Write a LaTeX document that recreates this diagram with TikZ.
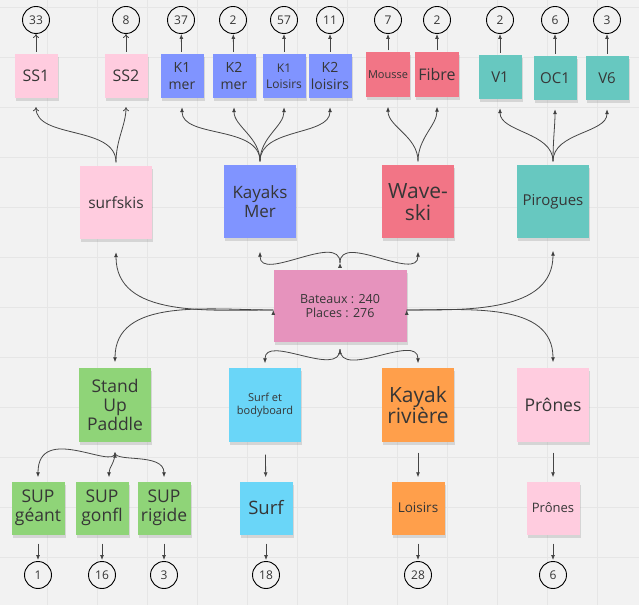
\documentclass[tikz,border=0pt]{standalone}
\usepackage{fontspec}
\setmainfont{Open Sans}
\usetikzlibrary{arrows.meta,shadows}

\definecolor{paper}{HTML}{F2F2F2}
\definecolor{gridc}{HTML}{E6E6E6}
\definecolor{ink}{HTML}{363636}
\definecolor{wire}{HTML}{454545}
\definecolor{rose}{HTML}{FFCCDF}
\definecolor{ocean}{HTML}{8094FF}
\definecolor{coral}{HTML}{F27586}
\definecolor{lagoon}{HTML}{67C8C0}
\definecolor{orchid}{HTML}{E693BD}
\definecolor{grass}{HTML}{8FD478}
\definecolor{sky}{HTML}{6AD6F8}
\definecolor{tangerine}{HTML}{FF9F4B}

\newcommand{\txt}[2]{\fontsize{#1}{#2}\selectfont}

\tikzset{
    note/.style={rectangle, minimum width=43pt, minimum height=44pt, inner sep=1pt,
        align=center, text=ink,
        drop shadow={shadow xshift=1pt, shadow yshift=-3pt, opacity=.25}},
    bignote/.style={note, minimum width=72pt, minimum height=73pt},
    subnote/.style={note, minimum width=53pt, minimum height=53pt},
    count/.style={circle, draw=black, line width=.9pt, minimum size=27pt, inner sep=0pt,
        fill=paper, text=ink, font=\txt{12}{12}},
    link/.style={draw=wire, line width=.8pt, -{Latex[length=5pt,width=4pt]}},
    openlink/.style={draw=wire, line width=.8pt, -{To[length=4pt,width=6pt]}},
    gridline/.style={draw=gridc, line width=.6pt}
}

\begin{document}
\begin{tikzpicture}[x=1pt,y=1pt]
    \fill[paper] (0,0) rectangle (639,605);
    \useasboundingbox (0,0) rectangle (639,605);
    \foreach \x in {47,97,...,597} \draw[gridline] (\x,0) -- (\x,605);
    \foreach \y in {48,98,...,598} \draw[gridline] (0,\y) -- (639,\y);

    % counts, top row
    \node (n33) at (36,585) [count] {33};
    \node (n8) at (126,585) [count] {8};
    \node (n37) at (181,585) [count] {37};
    \node (n2a) at (233,585) [count] {2};
    \node (n57) at (284,585) [count] {57};
    \node (n11) at (330,585) [count] {11};
    \node (n7) at (388,585) [count] {7};
    \node (n2b) at (437,585) [count] {2};
    \node (n2c) at (500,585) [count] {2};
    \node (n6a) at (555,585) [count] {6};
    \node (n3a) at (607,585) [count] {3};

    % small notes, top row
    \node (ss1) at (36,529) [note, fill=rose, font=\txt{16}{19}] {SS1};
    \node (ss2) at (126,529) [note, fill=rose, font=\txt{16}{19}] {SS2};
    \node (kam) at (182,529) [note, fill=ocean, font=\txt{14}{17}] {K1\\mer};
    \node (kbm) at (234,529) [note, fill=ocean, font=\txt{14}{17}] {K2\\mer};
    \node (kal) at (284,529) [note, fill=ocean, font=\txt{12}{16}] {K1\\Loisirs};
    \node (kbl) at (330,529) [note, fill=ocean, font=\txt{14}{17}] {K2\\loisirs};
    \node (mousse) at (388,530) [note, minimum width=44pt, minimum height=45pt, fill=coral, font=\txt{11}{13}] {Mousse};
    \node (fibre) at (437,530) [note, minimum width=44pt, minimum height=45pt, fill=coral, font=\txt{16}{19}] {Fibre};
    \node (v1) at (500,528) [note, fill=lagoon, font=\txt{15}{18}] {V1};
    \node (oc1) at (555,527) [note, fill=lagoon, font=\txt{15}{18}] {OC1};
    \node (v6) at (607,527) [note, fill=lagoon, font=\txt{15}{18}] {V6};

    % families
    \node (surfskis) at (116,402) [bignote, fill=rose, font=\txt{15.5}{18}] {surfskis};
    \node (kmer) at (260,403) [bignote, fill=ocean, font=\txt{17}{19}] {Kayaks\\Mer};
    \node (wave) at (418,403) [bignote, fill=coral, font=\txt{21}{22}] {Wave-\\ski};
    \node (pirogues) at (553,403) [bignote, fill=lagoon, font=\txt{15}{18}] {Pirogues};

    \node (bateaux) at (340,299) [note, minimum width=133pt, minimum height=72pt, fill=orchid, font=\txt{12.5}{13.5}] {Bateaux : 240\\Places : 276};

    \node (sup) at (115,200) [bignote, fill=grass, font=\txt{17.5}{19}] {Stand\\Up\\Paddle};
    \node (surfbb) at (265,200) [bignote, fill=sky, font=\txt{11}{12.5}] {Surf et\\bodyboard};
    \node (kriv) at (418,200) [bignote, fill=tangerine, font=\txt{21}{21.5}] {Kayak\\rivière};
    \node (prones) at (553,200) [bignote, fill=rose, font=\txt{17.5}{19}] {Prônes};

    % small notes, bottom row
    \node (geant) at (38,97) [subnote, fill=grass, font=\txt{17.5}{19}] {SUP\\géant};
    \node (gonfl) at (102,97) [subnote, fill=grass, font=\txt{17.5}{19}] {SUP\\gonfl};
    \node (rigide) at (164,97) [subnote, fill=grass, font=\txt{17.5}{19}] {SUP\\rigide};
    \node (surf) at (266,97) [subnote, fill=sky, font=\txt{18.5}{20}] {Surf};
    \node (loisirs) at (418,97) [subnote, fill=tangerine, font=\txt{13.5}{16}] {Loisirs};
    \node (pronesb) at (553,97) [subnote, fill=rose, font=\txt{13}{16}] {Prônes};

    % counts, bottom row
    \node (n1) at (38,30) [count] {1};
    \node (n16) at (102,30) [count] {16};
    \node (n3b) at (164,30) [count] {3};
    \node (n18) at (266,30) [count] {18};
    \node (n28) at (418,30) [count] {28};
    \node (n6b) at (553,30) [count] {6};

    % notes to counts
    \draw[openlink, shorten <=2pt] (ss1) -- (n33);
    \draw[openlink, shorten <=2pt] (ss2) -- (n8);
    \foreach \a/\b in {kam/n37, kbm/n2a, kal/n57, kbl/n11, mousse/n7, fibre/n2b, v1/n2c, oc1/n6a, v6/n3a}
        \draw[link, shorten <=2pt] (\a) -- (\b);
    \foreach \a/\b in {geant/n1, gonfl/n16, rigide/n3b, surf/n18, loisirs/n28, pronesb/n6b}
        \draw[link, shorten <=9pt, shorten >=1pt] (\a) -- (\b);

    % families to their notes
    \draw[openlink, shorten <=4pt, shorten >=9pt] (surfskis)
        edge[out=90, in=-90] (ss1) edge[out=90, in=-90] (ss2);
    \draw[link, shorten <=4pt, shorten >=9pt] (kmer)
        edge[out=90, in=-90] (kam) edge[out=90, in=-90] (kbm)
        edge[out=90, in=-90] (kal) edge[out=90, in=-90] (kbl);
    \draw[link, shorten <=4pt, shorten >=9pt] (wave)
        edge[out=90, in=-90] (mousse) edge[out=90, in=-90] (fibre);
    \draw[link, shorten <=4pt, shorten >=9pt] (pirogues)
        edge[out=90, in=-90] (v1) edge[out=90, in=-90] (oc1) edge[out=90, in=-90] (v6);

    % bateaux to families
    \draw[link] ([yshift=-4pt]bateaux.west)
        edge[out=180, in=-90] ([yshift=-12.5pt]surfskis.south)
        edge[out=180, in=90] ([yshift=6pt]sup.north);
    \draw[link] ([yshift=-4pt]bateaux.east)
        edge[out=0, in=-90] ([yshift=-12pt]pirogues.south)
        edge[out=0, in=90] ([yshift=6pt]prones.north);
    \draw[link] ([yshift=7pt]bateaux.north)
        edge[out=90, in=-90] ([yshift=-13pt]kmer.south)
        edge[out=90, in=-90] ([yshift=-13pt]wave.south);
    \draw[link] ([yshift=-7pt]bateaux.south)
        edge[out=-90, in=90] ([yshift=5pt]surfbb.north)
        edge[out=-90, in=90] ([yshift=5pt]kriv.north);

    % lower families to their notes
    \draw[link] ([yshift=-11pt]sup.south)
        edge[out=-90, in=90, out distance=18pt, in distance=55pt] ([yshift=4pt]geant.north)
        edge[out=-90, in=90] ([xshift=7pt, yshift=4pt]gonfl.north)
        edge[out=-90, in=90, out distance=10pt, in distance=25pt] ([yshift=4pt]rigide.north);
    \draw[link, shorten <=13pt, shorten >=4pt] (surfbb) -- (surf);
    \draw[link, shorten <=11pt, shorten >=4pt] (kriv) -- (loisirs);
    \draw[link, shorten <=11pt, shorten >=4pt] (prones) -- (pronesb);
\end{tikzpicture}
\end{document}
